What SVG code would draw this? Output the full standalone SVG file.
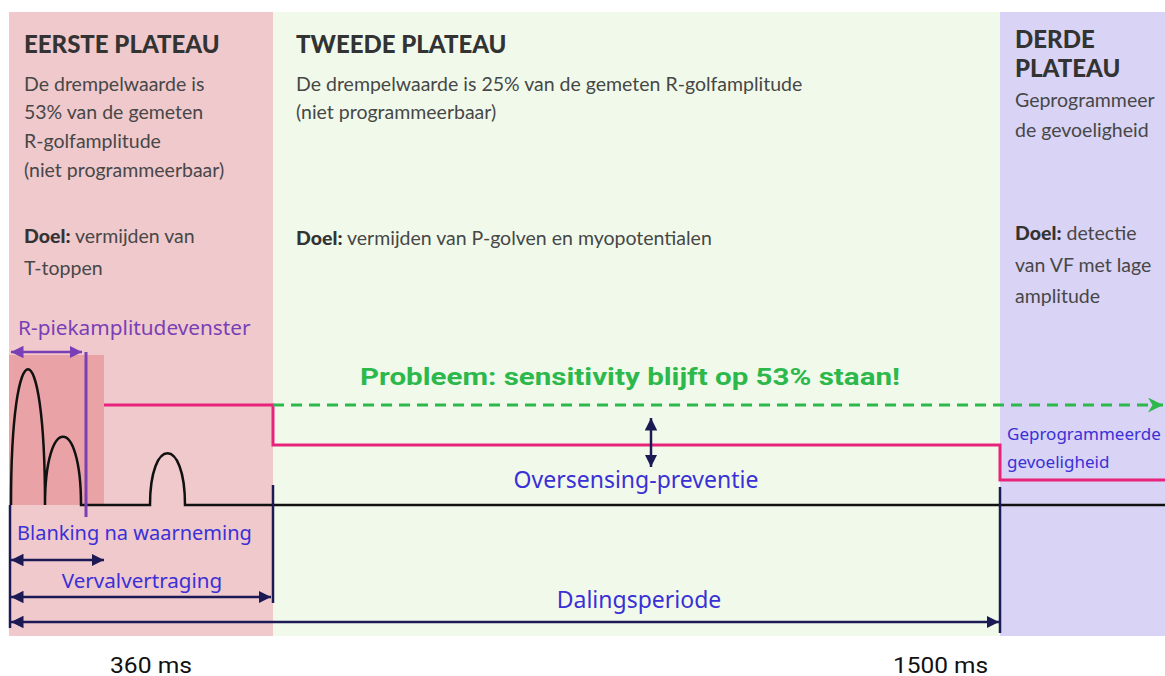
<svg xmlns="http://www.w3.org/2000/svg" width="1165" height="676" viewBox="0 0 1165 676">
<style>
.h{font-family:Lato,"Noto Sans",sans-serif;font-weight:900;font-size:24px;fill:#333}
.b{font-family:Lato,"Noto Sans",sans-serif;font-size:19.5px;fill:#474747}
.bb{font-weight:900;fill:#333}
.lbl{font-family:"Noto Sans",Lato,sans-serif;font-size:20px;fill:#3a30d6}
.nv{stroke:#1c1a55;stroke-width:2.5;fill:none}
.ms{font-family:Roboto,"Liberation Sans",sans-serif;font-size:22px;fill:#111}
</style>
<defs>
<marker id="an" viewBox="0 0 10 10" refX="10" refY="5" markerWidth="5" markerHeight="5" orient="auto-start-reverse" markerUnits="strokeWidth"><path d="M0,0 L10,5 L0,10 z" fill="#1c1a55"/></marker>
<marker id="ap" viewBox="0 0 10 10" refX="10" refY="5" markerWidth="5" markerHeight="5" orient="auto-start-reverse" markerUnits="strokeWidth"><path d="M0,0 L10,5 L0,10 z" fill="#7a3fb5"/></marker>
<marker id="ag" viewBox="0 0 10 10" refX="10" refY="5" markerWidth="5" markerHeight="5" orient="auto" markerUnits="strokeWidth"><path d="M0,0 L10,5 L0,10 L3,5 z" fill="#2db84c"/></marker>
</defs>
<rect width="1165" height="676" fill="#fff"/>
<g id="plateau1">
<rect x="9" y="12" width="264" height="624" fill="#f0c9cd"/>
<rect x="9" y="355" width="95" height="150" fill="#e9a3a6"/>
<text class="h" x="24" y="53">EERSTE PLATEAU</text>
<text class="b" x="24" y="91">De drempelwaarde is</text>
<text class="b" x="24" y="119">53% van de gemeten</text>
<text class="b" x="24" y="148">R-golfamplitude</text>
<text class="b" x="24" y="177">(niet programmeerbaar)</text>
<text class="b" x="24" y="243"><tspan class="bb">Doel:</tspan> vermijden van</text>
<text class="b" x="24" y="275">T-toppen</text>
</g>
<g id="plateau2">
<rect x="273" y="12" width="727" height="624" fill="#f1faea"/>
<text class="h" x="296" y="53">TWEEDE PLATEAU</text>
<text class="b" x="296" y="91">De drempelwaarde is 25% van de gemeten R-golfamplitude</text>
<text class="b" x="296" y="119">(niet programmeerbaar)</text>
<text class="b" x="296" y="245"><tspan class="bb">Doel:</tspan> vermijden van P-golven en myopotentialen</text>
</g>
<g id="plateau3">
<rect x="1000" y="12" width="165" height="624" fill="#d9d3f5"/>
<text class="h" x="1015" y="48">DERDE</text>
<text class="h" x="1015" y="77">PLATEAU</text>
<text class="b" x="1015" y="107">Geprogrammeer</text>
<text class="b" x="1015" y="137">de gevoeligheid</text>
<text class="b" x="1015" y="240"><tspan class="bb">Doel:</tspan> detectie</text>
<text class="b" x="1015" y="272">van VF met lage</text>
<text class="b" x="1015" y="303">amplitude</text>
</g>
<g id="connectors">
<path d="M11,505 C11,324 45,324 45,505 C45,414 81,414 81,505 L150,505 C150,436 185,436 185,505 L1165,505" fill="none" stroke="#111" stroke-width="2.5"/>
<path d="M104,405 H273 V445 H1000 V480 H1165" fill="none" stroke="#e8247a" stroke-width="3"/>
<line x1="273" y1="405" x2="1163" y2="405" stroke="#2db84c" stroke-width="3" stroke-dasharray="11 7" marker-end="url(#ag)"/>
<line x1="86" y1="352" x2="86" y2="517" stroke="#7a3fb5" stroke-width="3"/>
<line x1="11" y1="352" x2="82" y2="352" stroke="#7a3fb5" stroke-width="2.5" marker-start="url(#ap)" marker-end="url(#ap)"/>
<line x1="651" y1="418" x2="651" y2="467" class="nv" marker-start="url(#an)" marker-end="url(#an)"/>
<line x1="10" y1="505" x2="10" y2="628" class="nv"/>
<line x1="273" y1="485" x2="273" y2="603" class="nv"/>
<line x1="1000" y1="487" x2="1000" y2="633" class="nv"/>
<line x1="11" y1="560" x2="104" y2="560" class="nv" marker-start="url(#an)" marker-end="url(#an)"/>
<line x1="11" y1="597" x2="271" y2="597" class="nv" marker-start="url(#an)" marker-end="url(#an)"/>
<line x1="11" y1="622" x2="999" y2="622" class="nv" marker-start="url(#an)" marker-end="url(#an)"/>
</g>
<g id="labels">
<text x="18" y="335" font-family="'Noto Sans',Lato,sans-serif" font-size="20.8" fill="#7a3fb5">R-piekamplitudevenster</text>
<text x="360" y="385" font-family="Roboto,'Liberation Sans',sans-serif" font-weight="bold" font-size="24" fill="#2db84c" textLength="540" lengthAdjust="spacingAndGlyphs">Probleem: sensitivity blijft op 53% staan!</text>
<text class="lbl" x="636" y="488" text-anchor="middle" style="font-size:23px">Oversensing-preventie</text>
<text class="lbl" x="1007" y="440" style="font-size:17px">Geprogrammeerde</text>
<text class="lbl" x="1007" y="468" style="font-size:17px">gevoeligheid</text>
<text class="lbl" x="17" y="540">Blanking na waarneming</text>
<text class="lbl" x="142" y="588" text-anchor="middle" style="font-size:20.6px">Vervalvertraging</text>
<text class="lbl" x="639" y="608" text-anchor="middle" style="font-size:23px">Dalingsperiode</text>
<text class="ms" x="110" y="673" textLength="82" lengthAdjust="spacingAndGlyphs">360 ms</text>
<text class="ms" x="893" y="673" textLength="95" lengthAdjust="spacingAndGlyphs">1500 ms</text>
</g>
</svg>
